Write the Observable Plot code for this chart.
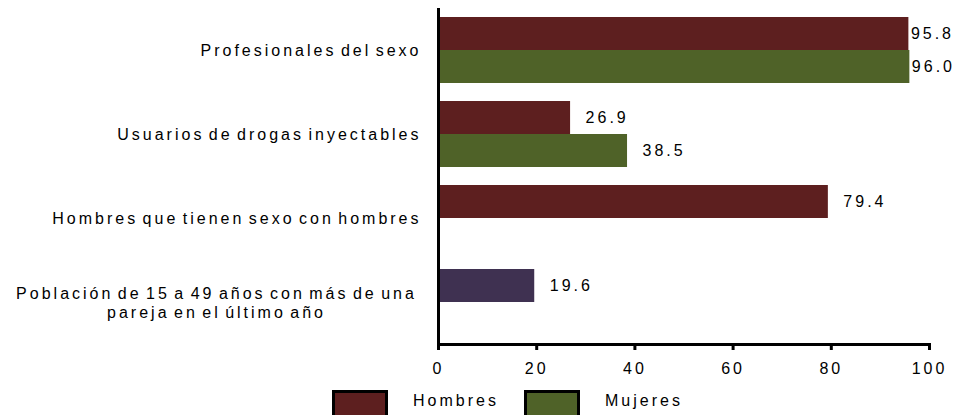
<!DOCTYPE html>
<html>
<head>
<meta charset="utf-8">
<script src="https://cdn.jsdelivr.net/npm/d3@7"></script>
<script src="https://cdn.jsdelivr.net/npm/@observablehq/plot@0.6"></script>
<style>
  html, body { margin: 0; padding: 0; background: #fff; overflow: hidden; }
  body { width: 954px; height: 415px; font-family: "Liberation Sans", Arial, sans-serif; }
  #legend { position: relative; height: 35px; }
  .lg-box { position: absolute; top: 10px; width: 50px; height: 26px; border: 3px solid #000; }
  .lg-txt { position: absolute; top: 12px; font-size: 16px; letter-spacing: 3px; word-spacing: -3px; color: #000; }
</style>
</head>
<body>
<div id="chart"></div>
<div id="legend"></div>
<script>
const categories = [
  "Profesionales del sexo",
  "Usuarios de drogas inyectables",
  "Hombres que tienen sexo con hombres",
  "Población de 15 a 49 años con más de una\npareja en el último año"
];
const slots = ["Hombres", "Mujeres"];
const hombres = [95.8, 26.9, 79.4, null];
const mujeres = [96.0, 38.5, null, null];
const poblacion = [null, null, null, 19.6];
const groups = ["Hombres", "Mujeres", "Población"];
const colors = ["#5d1f1f", "#4f6228", "#3f3151"];
const xTicks = [0, 20, 40, 60, 80, 100];

const rows = [];
categories.forEach((c, i) => {
  if (hombres[i] != null) rows.push({cat: c, slot: "Hombres", group: "Hombres", value: hombres[i]});
  if (mujeres[i] != null) rows.push({cat: c, slot: "Mujeres", group: "Mujeres", value: mujeres[i]});
  if (poblacion[i] != null) rows.push({cat: c, slot: "Hombres", group: "Población", value: poblacion[i]});
});

const singleLine = categories.filter(c => !c.includes("\n"));
const multiLine = categories.filter(c => c.includes("\n"));

const chart = Plot.plot({
  width: 954,
  height: 380,
  marginLeft: 438,
  marginRight: 25,
  marginTop: 8,
  marginBottom: 36,
  style: {fontFamily: "Liberation Sans, Arial, sans-serif", fontSize: "16px", letterSpacing: "3px", wordSpacing: "-3px", color: "#000", background: "#fff"},
  x: {domain: [0, 100]},
  fy: {domain: categories, padding: 0, axis: null, label: null},
  y: {domain: slots, paddingInner: 0, paddingOuter: 0.25, axis: null},
  color: {domain: groups, range: colors},
  marks: [
    Plot.barX(rows, {x: "value", y: "slot", fy: "cat", fill: "group"}),
    Plot.text(rows.filter(d => d.value < 90), {x: "value", y: "slot", fy: "cat", text: d => d.value.toFixed(1), textAnchor: "start", dx: 15, fill: "#000", style: "letter-spacing: 2px"}),
    Plot.text(rows.filter(d => d.value >= 90), {x: "value", y: "slot", fy: "cat", text: d => d.value.toFixed(1), textAnchor: "start", dx: 2, fill: "#000", style: "letter-spacing: 1.5px"}),
    Plot.text(singleLine, {fy: d => d, text: d => d, frameAnchor: "left", textAnchor: "end", dx: -17, fill: "#000"}),
    Plot.text(multiLine, {fy: d => d, text: d => d, frameAnchor: "left", textAnchor: "middle", dx: -222, lineHeight: 1.15, fill: "#000"}),
    Plot.ruleX([0], {stroke: "#000", strokeWidth: 3}),
    Plot.frame({anchor: "bottom", facet: "super", stroke: "#000", strokeWidth: 3}),
    Plot.axisX({ticks: xTicks, tickSize: 6, tickPadding: 12, strokeWidth: 3, label: null, fill: "#000"})
  ]
});
document.getElementById("chart").appendChild(chart);

const legend = document.getElementById("legend");
const legendItems = [
  {name: "Hombres", color: colors[0], box: 332, txt: 413},
  {name: "Mujeres", color: colors[1], box: 524, txt: 605}
];
legendItems.forEach(it => {
  const b = document.createElement("div");
  b.className = "lg-box";
  b.style.left = it.box + "px";
  b.style.background = it.color;
  legend.appendChild(b);
  const t = document.createElement("div");
  t.className = "lg-txt";
  t.style.left = it.txt + "px";
  t.textContent = it.name;
  legend.appendChild(t);
});
</script>
</body>
</html>
